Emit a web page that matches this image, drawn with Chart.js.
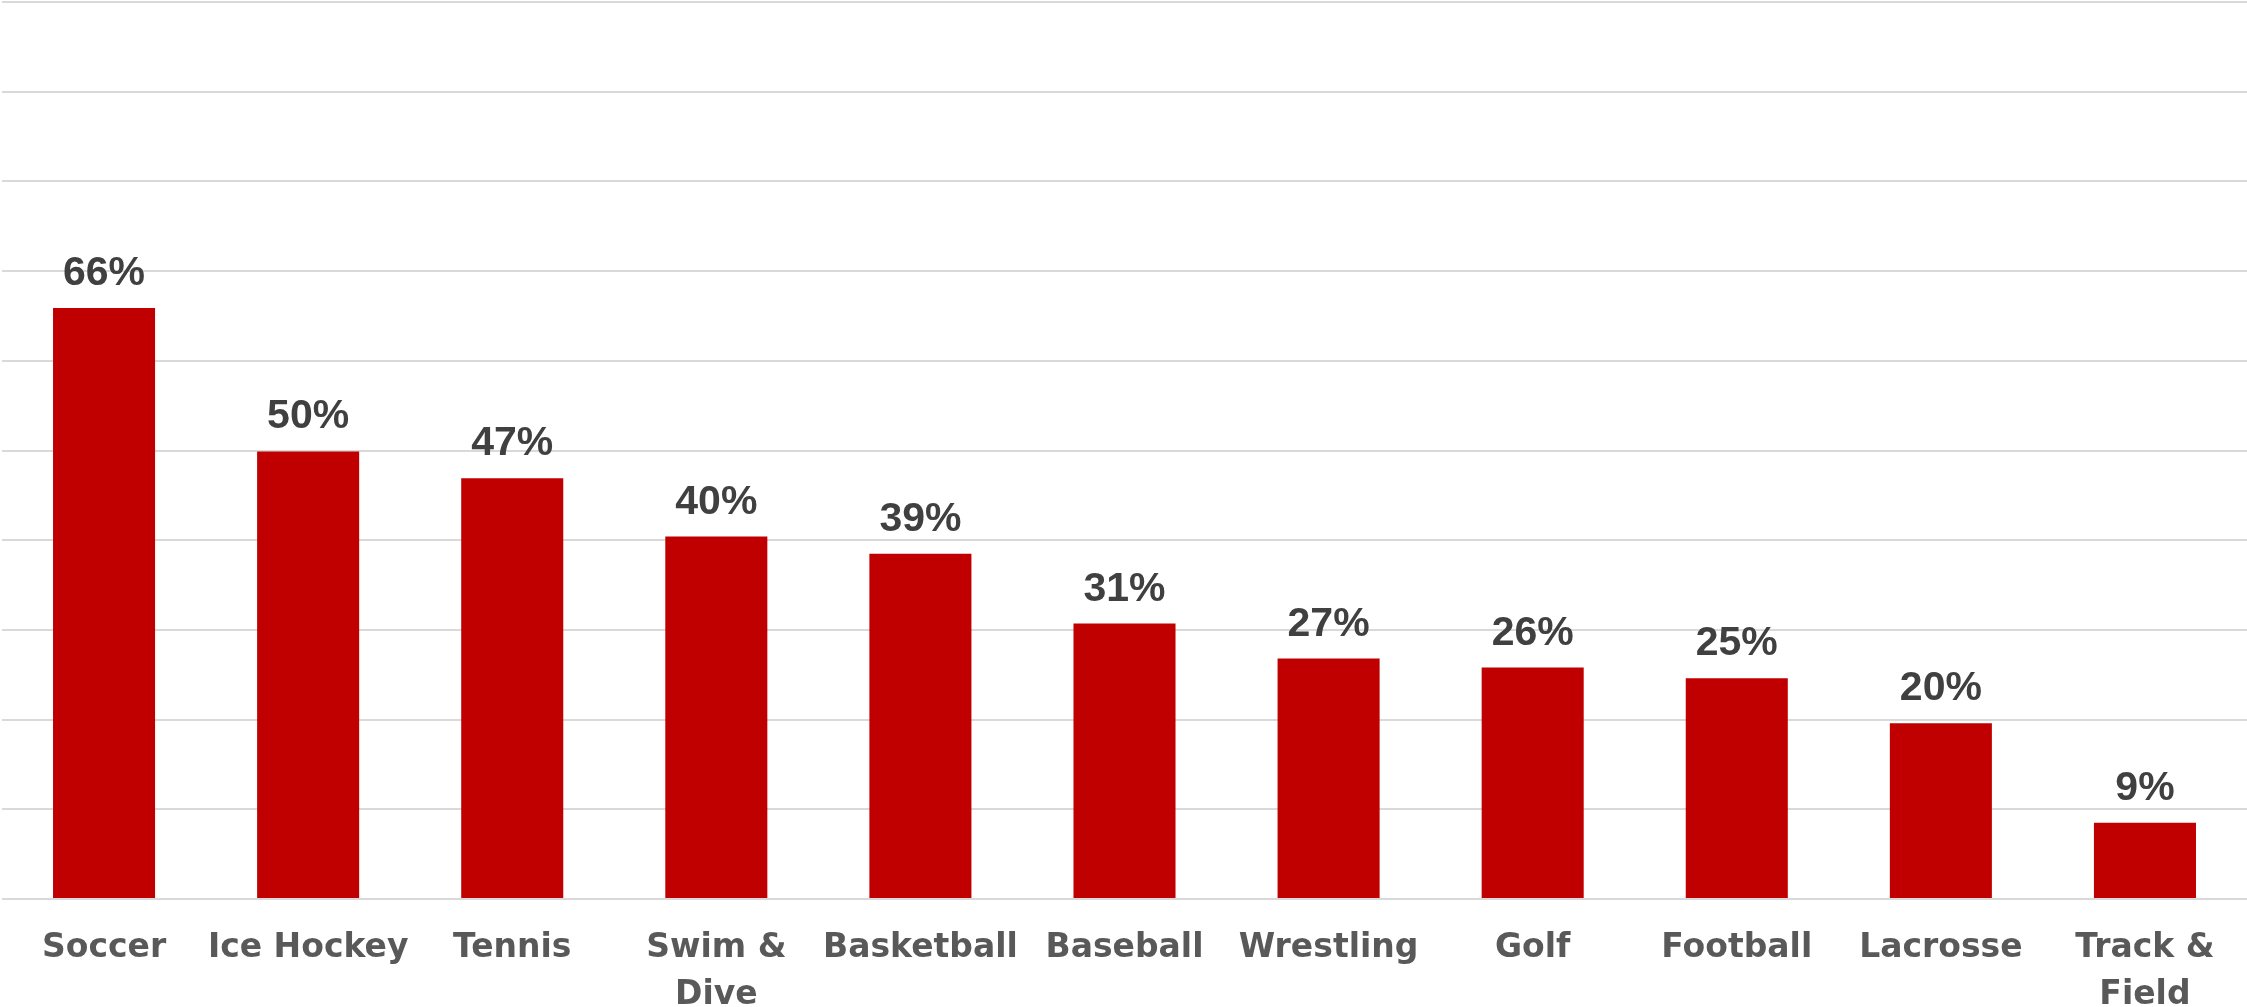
<!DOCTYPE html>
<html>
<head>
<meta charset="utf-8">
<script src="https://cdn.jsdelivr.net/npm/chart.js@4/dist/chart.umd.min.js"></script>
<style>
  html, body { margin: 0; padding: 0; background: #fff; }
  #wrap { width: 2247px; height: 1007px; position: relative; }
</style>
</head>
<body>
<div id="wrap"><canvas id="sportsChart"></canvas></div>
<script>
const sports = ['Soccer', 'Ice Hockey', 'Tennis', ['Swim &', 'Dive'], 'Basketball', 'Baseball',
  'Wrestling', 'Golf', 'Football', 'Lacrosse', ['Track &', 'Field']];
const shares = [65.9, 49.9, 46.9, 40.4, 38.5, 30.7, 26.8, 25.8, 24.6, 19.6, 8.5];
const shareLabels = ['66%', '50%', '47%', '40%', '39%', '31%', '27%', '26%', '25%', '20%', '9%'];
const yTicks = [0, 10, 20, 30, 40, 50, 60, 70, 80, 90, 100];

// value labels above each bar
const barLabels = {
  id: 'barLabels',
  afterDatasetsDraw(chart) {
    const ctx = chart.ctx;
    const meta = chart.getDatasetMeta(0);
    ctx.save();
    ctx.font = 'bold 41px "Liberation Sans", Arial, sans-serif';
    ctx.fillStyle = '#404040';
    ctx.textAlign = 'center';
    ctx.textBaseline = 'alphabetic';
    meta.data.forEach((bar, i) => {
      ctx.fillText(shareLabels[i], bar.x, bar.y - 23);
    });
    ctx.restore();
  }
};

const ctx = document.getElementById('sportsChart').getContext('2d');
new Chart(ctx, {
  type: 'bar',
  data: {
    labels: sports,
    datasets: [{
      data: shares,
      backgroundColor: '#C00000',
      borderWidth: 0,
      categoryPercentage: 1,
      barPercentage: 0.5
    }]
  },
  options: {
    responsive: true,
    maintainAspectRatio: false,
    animation: false,
    layout: { padding: { left: 2, top: 2, right: 0, bottom: 0 } },
    plugins: {
      legend: { display: false },
      tooltip: { enabled: false }
    },
    scales: {
      x: {
        grid: { display: false },
        border: { display: false },
        ticks: {
          autoSkip: false,
          maxRotation: 0,
          padding: 18,
          color: '#595959',
          font: { family: '"DejaVu Sans", sans-serif', weight: 'bold', size: 33, lineHeight: 1.42 }
        },
        afterFit(scale) { scale.height = 108; }
      },
      y: {
        min: 0,
        max: 100,
        afterBuildTicks(scale) { scale.ticks = yTicks.map(v => ({ value: v })); },
        grid: { color: '#d9d9d9', lineWidth: 2, drawTicks: false },
        border: { display: false },
        ticks: { display: false },
        afterFit(scale) { scale.width = 0; }
      }
    }
  },
  plugins: [barLabels]
});
</script>
</body>
</html>
